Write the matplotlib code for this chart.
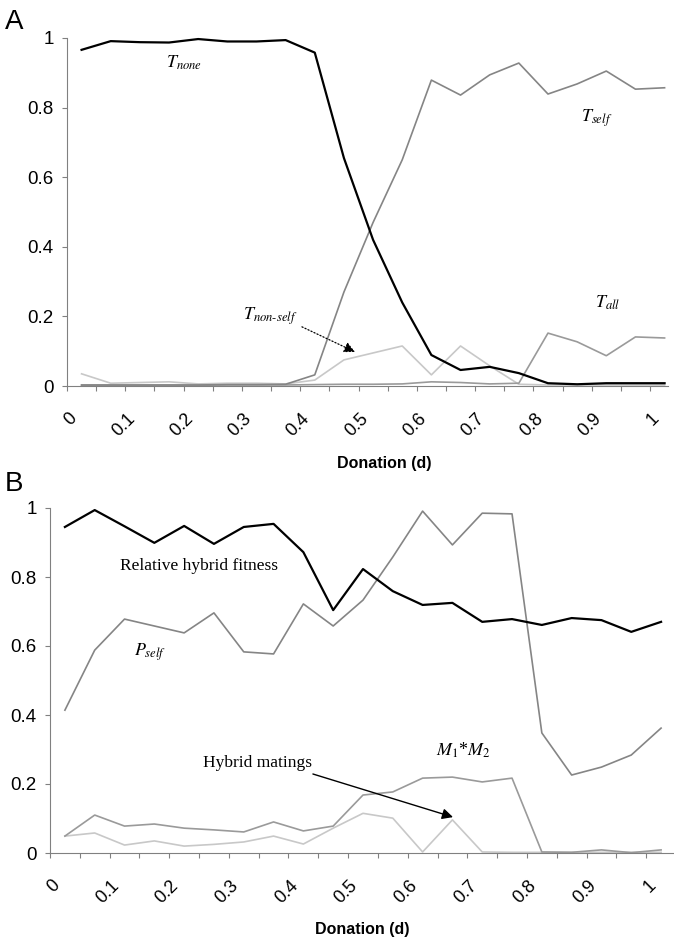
import matplotlib
matplotlib.use('Agg')
import matplotlib.pyplot as plt
import matplotlib.transforms as mtransforms

plt.rcParams['font.family'] = ['Liberation Sans', 'DejaVu Sans']
plt.rcParams['mathtext.fontset'] = 'stix'

# donation values (category midpoints)
d = [0.025, 0.075, 0.125, 0.175, 0.225, 0.275, 0.325, 0.375, 0.425, 0.475, 0.525,
     0.575, 0.625, 0.675, 0.725, 0.775, 0.825, 0.875, 0.925, 0.975, 1.025]

# panel A
t_none = [0.966, 0.991, 0.988, 0.987, 0.997, 0.990, 0.990, 0.994, 0.958, 0.655, 0.42,
          0.24, 0.089, 0.046, 0.055, 0.037, 0.008, 0.005, 0.008, 0.008, 0.008]
t_self = [0.003, 0.003, 0.003, 0.003, 0.003, 0.004, 0.004, 0.005, 0.032, 0.27, 0.47,
          0.65, 0.879, 0.836, 0.894, 0.928, 0.839, 0.868, 0.905, 0.853, 0.857]
t_all = [0.002, 0.002, 0.002, 0.002, 0.002, 0.003, 0.003, 0.003, 0.004, 0.005, 0.005,
         0.006, 0.012, 0.010, 0.006, 0.008, 0.152, 0.127, 0.087, 0.141, 0.138]
t_nonself = [0.035, 0.008, 0.010, 0.012, 0.006, 0.008, 0.008, 0.006, 0.017, 0.075, 0.095,
             0.115, 0.032, 0.115, 0.058, 0.005, 0.003, 0.003, 0.003, 0.003, 0.003]

# panel B
rel_fitness = [0.945, 0.994, 0.947, 0.899, 0.948, 0.896, 0.945, 0.954, 0.872, 0.704, 0.823,
               0.759, 0.719, 0.725, 0.670, 0.678, 0.661, 0.681, 0.675, 0.641, 0.670]
p_self = [0.414, 0.588, 0.678, 0.658, 0.638, 0.696, 0.583, 0.577, 0.722, 0.658, 0.733,
          0.858, 0.991, 0.893, 0.985, 0.983, 0.348, 0.226, 0.249, 0.284, 0.362]
m1m2 = [0.049, 0.110, 0.078, 0.084, 0.072, 0.067, 0.061, 0.090, 0.064, 0.078, 0.168,
        0.177, 0.217, 0.220, 0.206, 0.217, 0.003, 0.002, 0.009, 0.001, 0.009]
hybrid = [0.049, 0.058, 0.023, 0.035, 0.020, 0.025, 0.032, 0.049, 0.026, 0.072, 0.115,
          0.101, 0.003, 0.096, 0.003, 0.002, 0.002, 0.002, 0.002, 0.002, 0.002]

xticks = [0, 0.05, 0.1, 0.15, 0.2, 0.25, 0.3, 0.35, 0.4, 0.45, 0.5,
          0.55, 0.6, 0.65, 0.7, 0.75, 0.8, 0.85, 0.9, 0.95, 1.0]
xlabels = ['0', '', '0.1', '', '0.2', '', '0.3', '', '0.4', '', '0.5',
           '', '0.6', '', '0.7', '', '0.8', '', '0.9', '', '1']
yticks = [0, 0.2, 0.4, 0.6, 0.8, 1.0]
ylabels = ['0', '0.2', '0.4', '0.6', '0.8', '1']

W, H = 674, 943
fig = plt.figure(figsize=(W / 100, H / 100), dpi=100)


def px_axes(left, top, right, bottom):
    return fig.add_axes([left / W, 1 - bottom / H, (right - left) / W, (bottom - top) / H])


def style(ax, xmax):
    ax.set_xlim(0, xmax)
    ax.set_ylim(0, 1)
    for s in ['top', 'right']:
        ax.spines[s].set_visible(False)
    for s in ['left', 'bottom']:
        ax.spines[s].set_color('#808080')
        ax.spines[s].set_linewidth(0.8)
    ax.set_xticks(xticks)
    ax.set_xticklabels(xlabels)
    ax.set_yticks(yticks)
    ax.set_yticklabels(ylabels)
    ax.tick_params(direction='out', length=3.6, width=0.8, color='#808080')
    ax.tick_params(axis='y', labelsize=13.5, pad=6)
    ax.tick_params(axis='x', labelsize=13, pad=18)
    offset = mtransforms.ScaledTranslation(0.07, 0, fig.dpi_scale_trans)
    for lab in ax.get_xticklabels():
        lab.set_rotation(45)
        lab.set_ha('right')
        lab.set_va('center')
        lab.set_rotation_mode('anchor')
        lab.set_transform(lab.get_transform() + offset)
    ax.set_xlabel('Donation (d)', fontsize=11.5, fontweight='bold')


# ---- panel A ----
axA = px_axes(67, 38, 667.5, 386)
axA.plot(d, t_nonself, color='#c8c8c8', lw=1.2, clip_on=False)
axA.plot(d, t_all, color='#9a9a9a', lw=1.2, clip_on=False)
axA.plot(d, t_self, color='#858585', lw=1.2, clip_on=False)
axA.plot(d, t_none, color='black', lw=1.6, clip_on=False)
style(axA, 1.03)
axA.xaxis.set_label_coords(0.528, -0.2)

axA.text(0.2, 0.928, r'$T_{none}$', fontsize=13, ha='center', va='center')
axA.text(0.909, 0.77, r'$T_{self}$', fontsize=13, ha='center', va='center')
axA.text(0.928, 0.24, r'$T_{all}$', fontsize=13, ha='center', va='center')
axA.text(0.302, 0.2, r'$T_{non\text{-}self}$', fontsize=13, ha='left', va='center')
axA.annotate('', xy=(0.494, 0.098), xytext=(0.403, 0.17),
             arrowprops=dict(arrowstyle='-|>', color='black', lw=0.9, ls=':',
                             mutation_scale=16, shrinkA=0, shrinkB=0))

# ---- panel B ----
axB = px_axes(50, 508, 673, 853)
axB.plot(d, hybrid, color='#c8c8c8', lw=1.2, clip_on=False)
axB.plot(d, m1m2, color='#9a9a9a', lw=1.2, clip_on=False)
axB.plot(d, p_self, color='#858585', lw=1.2, clip_on=False)
axB.plot(d, rel_fitness, color='black', lw=1.6, clip_on=False)
style(axB, 1.045)
axB.xaxis.set_label_coords(0.502, -0.2)

serif = ['Liberation Serif', 'DejaVu Serif']
axB.text(0.25, 0.832, 'Relative hybrid fitness', family=serif, fontsize=12.5,
         ha='center', va='center')
axB.text(0.168, 0.583, r'$P_{self}$', fontsize=13, ha='center', va='center')
axB.text(0.693, 0.298, r'$M_{\mathit{1}}$*$M_{\mathit{2}}$', family=serif, fontsize=13,
         ha='center', va='center')
axB.text(0.348, 0.26, 'Hybrid matings', family=serif, fontsize=12.5,
         ha='center', va='center')
axB.annotate('', xy=(0.676, 0.104), xytext=(0.441, 0.229),
             arrowprops=dict(arrowstyle='-|>', color='black', lw=1.0,
                             mutation_scale=16, shrinkA=0, shrinkB=0))

fig.text(5 / W, 1 - 9 / H, 'A', fontsize=20, ha='left', va='top')
fig.text(5 / W, 1 - 471 / H, 'B', fontsize=20, ha='left', va='top')

fig.savefig('out.png', dpi=100)
